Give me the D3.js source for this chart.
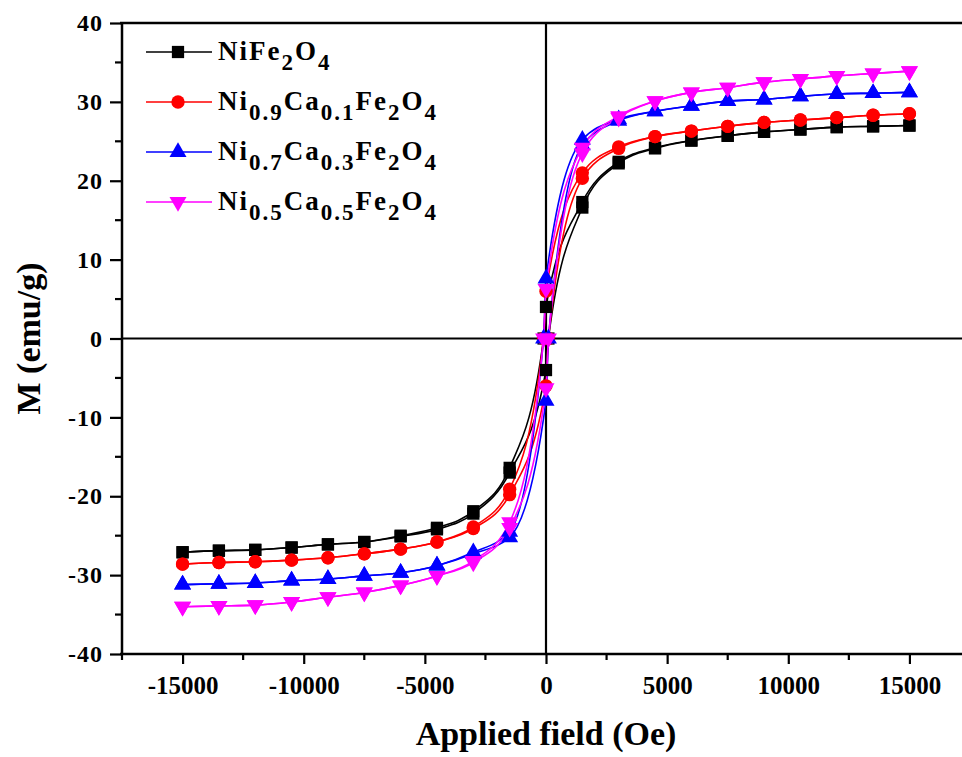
<!DOCTYPE html>
<html>
<head>
<meta charset="utf-8">
<script src="https://cdn.jsdelivr.net/npm/d3@7"></script>
<style>
  body { margin: 0; background: #fff; }
  text { font-family: "Liberation Serif", "DejaVu Serif", serif; }
</style>
</head>
<body>
<div id="chart"></div>
<script>
// applied field values (Oe) for the two branches of each loop
var fieldUp = [-15000, -13500, -12000, -10500, -9000, -7500, -6000, -4500, -3000, -1500,
               0, 100,
               1500, 3000, 4500, 6000, 7500, 9000, 10500, 12000, 13500, 15000];
var fieldDown = [-15000, -13500, -12000, -10500, -9000, -7500, -6000, -4500, -3000, -1500,
                 -100, 0,
                 1500, 3000, 4500, 6000, 7500, 9000, 10500, 12000, 13500, 15000];

// magnetization (emu/g), lower branch (field going up) and upper branch (field going down)
var niFeUp = [-27.1, -26.9, -26.8, -26.5, -26.1, -25.8, -25.1, -24.2, -22.2, -17.0,
              -4.0, 0,
              16.6, 22.2, 24.1, 25.1, 25.7, 26.2, 26.5, 26.8, 26.9, 27.0];
var niFeDown = [-27.1, -26.9, -26.8, -26.5, -26.1, -25.8, -25.0, -24.0, -21.9, -16.4,
                0, 4.0,
                17.3, 22.4, 24.2, 25.1, 25.7, 26.2, 26.5, 26.8, 26.9, 27.0];

var ca01Up = [-28.6, -28.4, -28.3, -28.1, -27.8, -27.3, -26.7, -25.8, -24.1, -19.8,
              -6.0, 0,
              20.3, 24.1, 25.6, 26.3, 26.9, 27.4, 27.7, 28.0, 28.3, 28.5];
var ca01Down = [-28.6, -28.4, -28.3, -28.1, -27.8, -27.3, -26.7, -25.8, -23.9, -19.1,
                0, 6.0,
                21.0, 24.3, 25.6, 26.3, 26.9, 27.4, 27.7, 28.0, 28.3, 28.5];

var ca03Up = [-31.2, -31.1, -31.0, -30.7, -30.5, -30.1, -29.7, -28.8, -27.3, -25.2,
              -7.9, 0,
              24.5, 27.6, 28.8, 29.5, 30.1, 30.3, 30.7, 31.0, 31.1, 31.2];
var ca03Down = [-31.2, -31.1, -31.0, -30.7, -30.5, -30.1, -29.7, -28.8, -27.1, -24.5,
                0, 7.6,
                25.2, 27.8, 28.8, 29.5, 30.1, 30.3, 30.7, 31.0, 31.1, 31.2];

var ca05Up = [-34.0, -33.9, -33.8, -33.4, -32.8, -32.2, -31.3, -30.1, -28.4, -24.0,
              -6.3, 0,
              23.5, 28.0, 30.1, 31.2, 31.8, 32.5, 32.9, 33.3, 33.6, 33.9];
var ca05Down = [-34.0, -33.9, -33.8, -33.4, -32.8, -32.2, -31.3, -30.1, -28.2, -23.3,
                0, 6.3,
                24.2, 28.2, 30.1, 31.2, 31.8, 32.5, 32.9, 33.3, 33.6, 33.9];

// legend labels: [text, isSubscript] pieces
var seriesNames = [
  [["NiFe", 0], ["2", 1], ["O", 0], ["4", 1]],
  [["Ni", 0], ["0.9", 1], ["Ca", 0], ["0.1", 1], ["Fe", 0], ["2", 1], ["O", 0], ["4", 1]],
  [["Ni", 0], ["0.7", 1], ["Ca", 0], ["0.3", 1], ["Fe", 0], ["2", 1], ["O", 0], ["4", 1]],
  [["Ni", 0], ["0.5", 1], ["Ca", 0], ["0.5", 1], ["Fe", 0], ["2", 1], ["O", 0], ["4", 1]]
];
var seriesColors = ["#000000", "#ff0000", "#0000ff", "#ff00ff"];

var xTicks = [-15000, -10000, -5000, 0, 5000, 10000, 15000];
var xMinorTicks = [-17500, -12500, -7500, -2500, 2500, 7500, 12500, 17500];
var yTicks = [-40, -30, -20, -10, 0, 10, 20, 30, 40];
var yMinorTicks = [-35, -25, -15, -5, 5, 15, 25, 35];

var series = [
  { up: niFeUp, down: niFeDown, symbol: d3.symbolSquare, size: 150, rot: 0 },
  { up: ca01Up, down: ca01Down, symbol: d3.symbolCircle, size: 140, rot: 0 },
  { up: ca03Up, down: ca03Down, symbol: d3.symbolTriangle, size: 125, rot: 0 },
  { up: ca05Up, down: ca05Down, symbol: d3.symbolTriangle, size: 125, rot: 180 }
];

var width = 962, height = 757;

var svg = d3.select("#chart")
    .append("svg")
    .attr("width", width)
    .attr("height", height);

svg.append("rect").attr("width", width).attr("height", height).attr("fill", "#fff");

var x = d3.scaleLinear().domain([-17500, 17500]).range([122, 970]);
var y = d3.scaleLinear().domain([-40, 40]).range([654, 23]);

// clip so the curves stay inside the frame
svg.append("clipPath").attr("id", "plotClip")
  .append("rect").attr("x", 122).attr("y", 23).attr("width", 848).attr("height", 631);

// zero lines
svg.append("line")
    .attr("x1", x(0)).attr("x2", x(0)).attr("y1", y(40)).attr("y2", y(-40))
    .attr("stroke", "#000").attr("stroke-width", 2.2);
svg.append("line")
    .attr("x1", x(-17500)).attr("x2", x(17500)).attr("y1", y(0)).attr("y2", y(0))
    .attr("stroke", "#000").attr("stroke-width", 2.2);

var line = d3.line()
    .x(function (d) { return x(d[0]); })
    .y(function (d) { return y(d[1]); })
    .curve(d3.curveMonotoneX);

var plot = svg.append("g").attr("clip-path", "url(#plotClip)");

series.forEach(function (s, i) {
  var up = fieldUp.map(function (f, k) { return [f, s.up[k]]; });
  var down = fieldDown.map(function (f, k) { return [f, s.down[k]]; });
  [up, down].forEach(function (branch) {
    plot.append("path")
        .datum(branch)
        .attr("fill", "none")
        .attr("stroke", seriesColors[i])
        .attr("stroke-width", 1.6)
        .attr("d", line);
  });
});

series.forEach(function (s, i) {
  var pts = fieldUp.map(function (f, k) { return [f, s.up[k]]; })
      .concat(fieldDown.map(function (f, k) { return [f, s.down[k]]; }));
  plot.selectAll(null)
      .data(pts)
      .enter().append("path")
      .attr("d", d3.symbol().type(s.symbol).size(s.size))
      .attr("transform", function (d) {
        return "translate(" + x(d[0]) + "," + y(d[1]) + ") rotate(" + s.rot + ")";
      })
      .attr("fill", seriesColors[i]);
});

// frame: left axis, bottom axis, top border
var frame = svg.append("g").attr("stroke", "#000").attr("stroke-width", 2.5);
frame.append("line").attr("x1", 122).attr("x2", 122).attr("y1", y(40)).attr("y2", y(-40));
frame.append("line").attr("x1", 120).attr("x2", 970).attr("y1", y(-40)).attr("y2", y(-40));
frame.append("line").attr("x1", 120).attr("x2", 970).attr("y1", y(40)).attr("y2", y(40));

// plain hyphen for negatives, like the original figure
var plainFormat = function (d) { return String(d); };

// x axis
var xAxis = svg.append("g").attr("transform", "translate(0," + y(-40) + ")");
xAxis.call(d3.axisBottom(x).tickValues(xTicks).tickSize(10).tickPadding(12)
    .tickFormat(plainFormat));
xAxis.select(".domain").remove();
xAxis.selectAll(".tick line").attr("stroke-width", 2.2);
xAxis.selectAll(".tick text")
    .attr("font-family", "Liberation Serif")
    .attr("font-weight", "bold")
    .attr("font-size", 25);
xAxis.selectAll(".minor").data(xMinorTicks).enter().append("line")
    .attr("x1", function (d) { return x(d); }).attr("x2", function (d) { return x(d); })
    .attr("y1", 0).attr("y2", 6)
    .attr("stroke", "#000").attr("stroke-width", 2.2);

// y axis
var yAxis = svg.append("g").attr("transform", "translate(122,0)");
yAxis.call(d3.axisLeft(y).tickValues(yTicks).tickSize(12).tickPadding(7)
    .tickFormat(plainFormat));
yAxis.select(".domain").remove();
yAxis.selectAll(".tick line").attr("stroke-width", 2.2);
yAxis.selectAll(".tick text")
    .attr("font-family", "Liberation Serif")
    .attr("font-weight", "bold")
    .attr("font-size", 24)
    .attr("letter-spacing", 1);
yAxis.selectAll(".minor").data(yMinorTicks).enter().append("line")
    .attr("x1", -7).attr("x2", 0)
    .attr("y1", function (d) { return y(d); }).attr("y2", function (d) { return y(d); })
    .attr("stroke", "#000").attr("stroke-width", 2.2);

// axis titles
svg.append("text")
    .attr("x", x(0)).attr("y", 745)
    .attr("text-anchor", "middle")
    .attr("font-weight", "bold")
    .attr("font-size", 34)
    .text("Applied field (Oe)");
svg.append("text")
    .attr("transform", "translate(40," + y(0) + ") rotate(-90)")
    .attr("text-anchor", "middle")
    .attr("font-weight", "bold")
    .attr("font-size", 34)
    .text("M (emu/g)");

// legend
var legend = svg.append("g");
seriesNames.forEach(function (name, i) {
  var ly = 52 + i * 50;
  var row = legend.append("g").attr("transform", "translate(0," + ly + ")");
  row.append("line").attr("x1", 146).attr("x2", 212).attr("y1", 0).attr("y2", 0)
      .attr("stroke", seriesColors[i]).attr("stroke-width", 1.6);
  row.append("path")
      .attr("d", d3.symbol().type(series[i].symbol).size(series[i].size))
      .attr("transform", "translate(178,0) rotate(" + series[i].rot + ")")
      .attr("fill", seriesColors[i]);
  var t = row.append("text").attr("x", 218).attr("y", 8)
      .attr("font-size", 27).attr("font-weight", "bold").attr("letter-spacing", 2);
  var shifted = false;
  name.forEach(function (p) {
    var sp = t.append("tspan").text(p[0]);
    if (p[1]) {
      sp.attr("font-size", 23).attr("dy", shifted ? 0 : 10);
      shifted = true;
    } else {
      sp.attr("dy", shifted ? -10 : 0);
      shifted = false;
    }
  });
});
</script>
</body>
</html>
